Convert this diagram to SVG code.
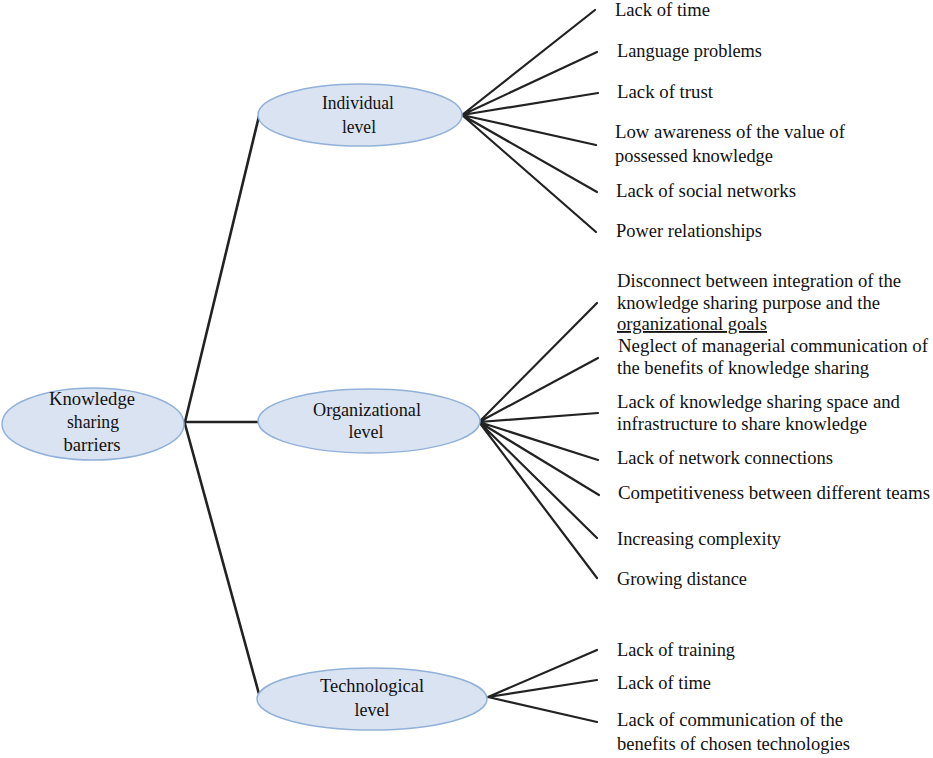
<svg xmlns="http://www.w3.org/2000/svg" width="933" height="758" viewBox="0 0 933 758">
<style>
.n{fill:#dae3f1;stroke:#92b1d8;stroke-width:1.5}
.t{font-family:"Liberation Serif","Times New Roman",serif;font-size:18.5px;fill:#111}
.c{text-anchor:middle;font-size:18px}
.l{stroke:#222;stroke-width:2.2;fill:none;stroke-linecap:round}
.r{stroke-width:2.6}
</style>
<rect width="933" height="758" fill="#fff"/>
<g id="connectors">
<path class="l r" d="M185,422 L259,116 M185,422 L258,422 M185,424 L259,694"/>
<path class="l" d="M462,115 L595,10 M462,115 L597,52 M462,115 L598,93 M462,115 L596,145 M462,115 L597,192 M462,115 L596,232"/>
<path class="l" d="M479,422 L597,303 M479,422 L598,358 M479,422 L598,413 M479,422 L598,460 M479,422 L599,495 M479,422 L597,538 M479,422 L597,578"/>
<path class="l" d="M488,697 L597,650 M488,697 L597,680 M488,697 L597,722"/>
</g>
<g id="root">
<ellipse class="n" cx="93" cy="424" rx="91" ry="36"/>
<text class="t c" x="92" y="405" textLength="86" lengthAdjust="spacingAndGlyphs">Knowledge</text>
<text class="t c" x="93" y="428" textLength="52" lengthAdjust="spacingAndGlyphs">sharing</text>
<text class="t c" x="92" y="451" textLength="57" lengthAdjust="spacingAndGlyphs">barriers</text>
</g>
<g id="individual">
<ellipse class="n" cx="360" cy="115" rx="102" ry="31"/>
<text class="t c" x="358" y="109" textLength="72" lengthAdjust="spacingAndGlyphs">Individual</text>
<text class="t c" x="359" y="133" textLength="34" lengthAdjust="spacingAndGlyphs">level</text>
</g>
<g id="organizational">
<ellipse class="n" cx="369" cy="421" rx="111" ry="32"/>
<text class="t c" x="367" y="416" textLength="108" lengthAdjust="spacingAndGlyphs">Organizational</text>
<text class="t c" x="366" y="438" textLength="35" lengthAdjust="spacingAndGlyphs">level</text>
</g>
<g id="technological">
<ellipse class="n" cx="372" cy="699" rx="115" ry="31"/>
<text class="t c" x="372" y="692" textLength="104" lengthAdjust="spacingAndGlyphs">Technological</text>
<text class="t c" x="372" y="716" textLength="35" lengthAdjust="spacingAndGlyphs">level</text>
</g>
<g id="ind-items">
<text class="t" x="615" y="16" textLength="95" lengthAdjust="spacingAndGlyphs">Lack of time</text>
<text class="t" x="617" y="57" textLength="145" lengthAdjust="spacingAndGlyphs">Language problems</text>
<text class="t" x="617" y="98" textLength="96" lengthAdjust="spacingAndGlyphs">Lack of trust</text>
<text class="t" x="615" y="138" textLength="230" lengthAdjust="spacingAndGlyphs">Low awareness of the value of</text>
<text class="t" x="615" y="162" textLength="158" lengthAdjust="spacingAndGlyphs">possessed knowledge</text>
<text class="t" x="616" y="197" textLength="180" lengthAdjust="spacingAndGlyphs">Lack of social networks</text>
<text class="t" x="616" y="237" textLength="146" lengthAdjust="spacingAndGlyphs">Power relationships</text>
</g>
<g id="org-items">
<text class="t" x="617" y="287" textLength="284" lengthAdjust="spacingAndGlyphs">Disconnect between integration of the</text>
<text class="t" x="617" y="309" textLength="263" lengthAdjust="spacingAndGlyphs">knowledge sharing purpose and the</text>
<text class="t" x="617" y="330" textLength="150" lengthAdjust="spacingAndGlyphs" text-decoration="underline">organizational  goals</text>
<text class="t" x="618" y="352" textLength="310" lengthAdjust="spacingAndGlyphs">Neglect of managerial communication  of</text>
<text class="t" x="617" y="374" textLength="252" lengthAdjust="spacingAndGlyphs">the benefits of knowledge sharing</text>
<text class="t" x="617" y="408" textLength="283" lengthAdjust="spacingAndGlyphs">Lack of knowledge sharing space and</text>
<text class="t" x="617" y="430" textLength="250" lengthAdjust="spacingAndGlyphs">infrastructure to share knowledge</text>
<text class="t" x="617" y="464" textLength="216" lengthAdjust="spacingAndGlyphs">Lack of network connections</text>
<text class="t" x="618" y="499" textLength="312" lengthAdjust="spacingAndGlyphs">Competitiveness  between different teams</text>
<text class="t" x="617" y="545" textLength="164" lengthAdjust="spacingAndGlyphs">Increasing complexity</text>
<text class="t" x="617" y="585" textLength="130" lengthAdjust="spacingAndGlyphs">Growing distance</text>
</g>
<g id="tech-items">
<text class="t" x="617" y="656" textLength="118" lengthAdjust="spacingAndGlyphs">Lack of training</text>
<text class="t" x="617" y="689" textLength="94" lengthAdjust="spacingAndGlyphs">Lack of time</text>
<text class="t" x="617" y="726" textLength="226" lengthAdjust="spacingAndGlyphs">Lack of communication  of the</text>
<text class="t" x="617" y="750" textLength="233" lengthAdjust="spacingAndGlyphs">benefits of chosen technologies</text>
</g>
</svg>
